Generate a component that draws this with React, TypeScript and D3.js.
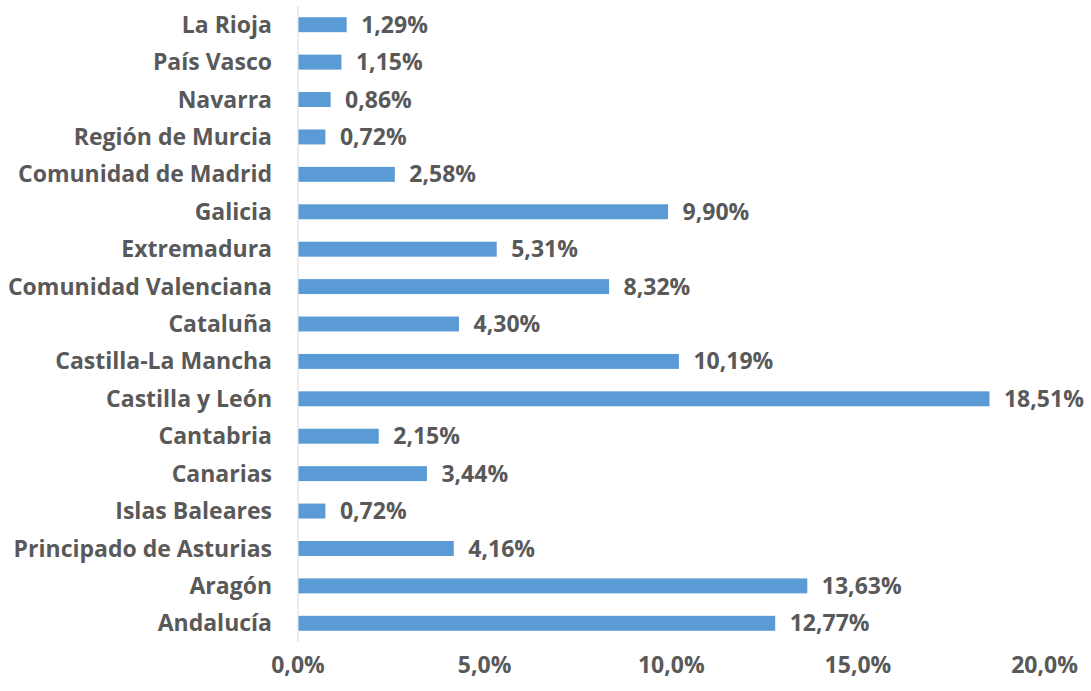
import React from "react";
import * as d3 from "d3";

const categories = [
  "La Rioja", "País Vasco", "Navarra", "Región de Murcia", "Comunidad de Madrid",
  "Galicia", "Extremadura", "Comunidad Valenciana", "Cataluña", "Castilla-La Mancha",
  "Castilla y León", "Cantabria", "Canarias", "Islas Baleares", "Principado de Asturias",
  "Aragón", "Andalucía",
];
const values = [1.29, 1.15, 0.86, 0.72, 2.58, 9.9, 5.31, 8.32, 4.3, 10.19, 18.51, 2.15, 3.44, 0.72, 4.16, 13.63, 12.77];
const ticks = [0, 5, 10, 15, 20];

const W = 1091, H = 691;
const x0 = 298, x1 = 1044.6;
const yTop = 6, yBot = 642;
const font = "'Open Sans', sans-serif";
const textColor = "#595959";
const fs = 23;

const fmt = (v: number, d: number) => v.toFixed(d).replace(".", ",") + "%";

export default function App() {
  const x = d3.scaleLinear().domain([0, 20]).range([x0, x1]);
  const y = d3.scaleBand().domain(categories).range([yTop, yBot]).paddingInner(0.6).paddingOuter(0.3);
  return (
    <svg width={W} height={H} style={{ position: "absolute", left: 0, top: 0, background: "#fff" }}>
      <line x1={x(0)} x2={x(0)} y1={yTop} y2={yBot} stroke="#d9d9d9" strokeWidth={1} />
      {categories.map((c, i) => {
        const yy = y(c)!;
        const cy = yy + y.bandwidth() / 2;
        return (
          <g key={c}>
            <rect x={x(0) + 0.5} y={yy} width={x(values[i]) - x(0)} height={y.bandwidth()} fill="#5b9bd5" />
            <text x={272} y={cy} dy="0.35em" textAnchor="end" fontFamily={font} fontWeight="bold" fontSize={fs} fill={textColor}>{c}</text>
            <text x={x(values[i]) + 15} y={cy} dy="0.35em" fontFamily={font} fontWeight="bold" fontSize={fs} fill={textColor}>{fmt(values[i], 2)}</text>
          </g>
        );
      })}
      {ticks.map(t => (
        <text key={t} x={x(t)} y={665} dy="0.35em" textAnchor="middle" fontFamily={font} fontWeight="bold" fontSize={fs} fill={textColor}>{fmt(t, 1)}</text>
      ))}
    </svg>
  );
}
